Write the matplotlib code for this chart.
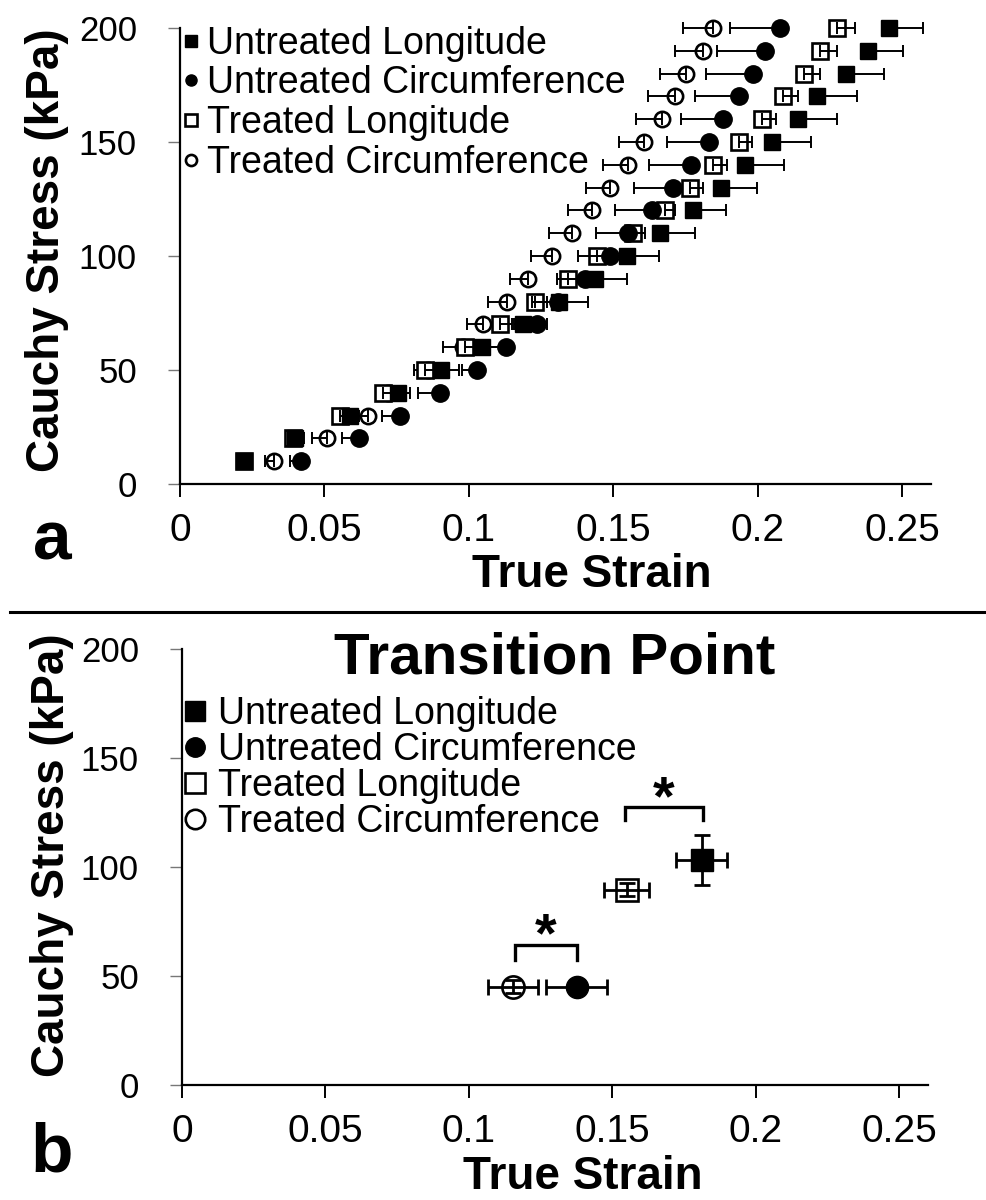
import matplotlib
matplotlib.use("Agg")
import matplotlib.pyplot as plt
from matplotlib.lines import Line2D
import numpy as np

plt.rcParams["font.family"] = ["Liberation Sans", "DejaVu Sans"]

# ── data: panel a, stress-strain curves (strain) ─────────────────────────────
stress_a = [10, 20, 30, 40, 50, 60, 70, 80, 90, 100,
            110, 120, 130, 140, 150, 160, 170, 180, 190, 200]

strain_ul = [0.0222, 0.0398, 0.0589, 0.0755, 0.0905, 0.1045, 0.1188, 0.1312, 0.1437, 0.1547,
             0.1662, 0.1777, 0.1873, 0.1956, 0.2051, 0.2139, 0.2204, 0.2306, 0.2383, 0.2453]
err_ul = [0.002, 0.003, 0.003, 0.004, 0.006, 0.007, 0.0081, 0.010, 0.0109, 0.0112,
          0.0121, 0.0115, 0.0124, 0.0135, 0.0133, 0.0135, 0.0139, 0.0132, 0.0121, 0.0121]

strain_uc = [0.0419, 0.0620, 0.0762, 0.0900, 0.1027, 0.1129, 0.1235, 0.1310, 0.1402, 0.1489,
             0.1550, 0.1633, 0.1706, 0.1769, 0.1832, 0.1881, 0.1937, 0.1985, 0.2026, 0.2078]
err_uc = [0.0037, 0.0059, 0.0063, 0.0075, 0.005, 0.008, 0.008, 0.009, 0.0098, 0.011,
          0.011, 0.0127, 0.0134, 0.0144, 0.0147, 0.0148, 0.0154, 0.0165, 0.0167, 0.0173]

strain_tl = [0.0220, 0.0390, 0.0554, 0.0703, 0.0848, 0.0987, 0.1108, 0.1229, 0.1344, 0.1443,
             0.1570, 0.1679, 0.1764, 0.1847, 0.1936, 0.2014, 0.2086, 0.2162, 0.2216, 0.2274]
err_tl = [0.002, 0.002, 0.003, 0.003, 0.003, 0.004, 0.004, 0.004, 0.004, 0.004,
          0.004, 0.0035, 0.0046, 0.0046, 0.0044, 0.005, 0.0052, 0.0054, 0.0058, 0.0063]

strain_tc = [0.0325, 0.0509, 0.0651, 0.0720, 0.0860, 0.0979, 0.1050, 0.1131, 0.1206, 0.1287,
             0.1356, 0.1425, 0.1487, 0.1552, 0.1608, 0.1670, 0.1714, 0.1752, 0.1810, 0.1844]
err_tc = [0.0029, 0.0052, 0.004, 0.004, 0.005, 0.0069, 0.0058, 0.0064, 0.0063, 0.0072,
          0.008, 0.0081, 0.0082, 0.0087, 0.0088, 0.0091, 0.0095, 0.009, 0.0096, 0.0102]

# ── data: panel b, transition point (mean ± sd) ─────────────────────────────
tp_strain = [0.1812, 0.1376, 0.1550, 0.1155]   # UL, UC, TL, TC
tp_strain_err = [0.0090, 0.0107, 0.0078, 0.0088]
tp_stress = [103.2, 45.0, 89.5, 45.0]
tp_stress_err = [11.3, 3.0, 3.0, 3.0]

# significance brackets: (x_left, x_right, y_top, y_arm)
sig_brackets = [(0.1545, 0.1816, 127.4, 121.6),
                (0.1161, 0.1376, 64.2, 57.3)]

labels = ["Untreated Longitude", "Untreated Circumference",
          "Treated Longitude", "Treated Circumference"]
xtick_vals = [0, 0.05, 0.1, 0.15, 0.2, 0.25]
xtick_labels = ["0", "0.05", "0.1", "0.15", "0.2", "0.25"]
ytick_vals = [0, 50, 100, 150, 200]

# ── styles ───────────────────────────────────────────────────────────────────
styles = {
    "Untreated Longitude":     dict(marker="s", mfc="black", mec="black", mew=1.0),
    "Untreated Circumference": dict(marker="o", mfc="black", mec="black", mew=1.0),
    "Treated Longitude":       dict(marker="s", mfc="white", mec="black", mew=1.9),
    "Treated Circumference":   dict(marker="o", mfc="white", mec="black", mew=1.9),
}


def style_axes(ax):
    ax.set_xlim(0, 0.26)
    ax.set_ylim(0, 200)
    ax.set_xticks(xtick_vals)
    ax.set_xticklabels(xtick_labels)
    ax.set_yticks(ytick_vals)
    for side in ("top", "right"):
        ax.spines[side].set_visible(False)
    for side in ("left", "bottom"):
        ax.spines[side].set_linewidth(1.6)
    ax.tick_params(axis="x", direction="out", length=9, width=1.4, labelsize=28, pad=12)
    ax.tick_params(axis="y", direction="out", length=9, width=1.0, color="#777777",
                   labelsize=25, pad=22)


def add_legend(ax, ms, x, y, spacing, textpad, hlen):
    handles = [Line2D([], [], ls="none", ms=ms, **styles[lab]) for lab in labels]
    leg = ax.legend(handles, labels, loc="upper left", bbox_to_anchor=(x, y),
                    frameon=False, fontsize=27, borderaxespad=0, borderpad=0,
                    labelspacing=spacing, handletextpad=textpad, handlelength=hlen)
    for h in leg.legend_handles:
        h.set_clip_on(False)
    return leg


fig = plt.figure(figsize=(9.87, 12), dpi=100)
ax_a = fig.add_axes([180 / 987, 1 - 484 / 1200, 751 / 987, 456 / 1200])
ax_b = fig.add_axes([182 / 987, 1 - 1085 / 1200, 0.26 * 2868 / 987, 436 / 1200])

# ── panel a ──────────────────────────────────────────────────────────────────
# drawing order: treated series underneath, untreated on top
series_a = [
    ("Treated Circumference", strain_tc, err_tc, "minus", 11.0),
    ("Treated Longitude", strain_tl, err_tl, "plus", 12.0),
    ("Untreated Longitude", strain_ul, err_ul, "plus", 12.0),
    ("Untreated Circumference", strain_uc, err_uc, "minus", 12.5),
]
for z, (lab, xs, errs, side, ms) in enumerate(series_a):
    errs = np.array(errs)
    zero = np.zeros_like(errs)
    xerr = [errs, zero] if side == "minus" else [zero, errs]
    ax_a.plot(xs, stress_a, ls="none", ms=ms, zorder=3 + z, clip_on=False, **styles[lab])
    ax_a.errorbar(xs, stress_a, xerr=xerr, fmt="none", ecolor="black", elinewidth=1.4,
                  capsize=4.5, capthick=1.4, zorder=3.5 + z, clip_on=False)

style_axes(ax_a)
add_legend(ax_a, ms=8, x=0.004, y=1.005, spacing=0.1, textpad=0.25, hlen=0.4)
ax_a.set_xlabel("True Strain", fontsize=33, fontweight="bold", va="center")
ax_a.xaxis.set_label_coords(0.549, -0.2)
ax_a.set_ylabel("Cauchy Stress (kPa)", fontsize=33, fontweight="bold", va="center")
ax_a.yaxis.set_label_coords(-0.177, 0.513)

# ── panel b ──────────────────────────────────────────────────────────────────
for z, lab in enumerate(labels):
    i = labels.index(lab)
    ax_b.plot(tp_strain[i], tp_stress[i], ls="none", ms=16, zorder=3 + z,
              clip_on=False, **styles[lab])
    ax_b.errorbar(tp_strain[i], tp_stress[i], xerr=tp_strain_err[i], yerr=tp_stress_err[i],
                  fmt="none", ecolor="black", elinewidth=2.0, capsize=6, capthick=2.0,
                  zorder=3.5 + z)

for x0, x1, ytop, yarm in sig_brackets:
    ax_b.plot([x0, x0, x1, x1], [yarm, ytop, ytop, yarm], color="black", lw=2.4,
              solid_joinstyle="miter")
    ax_b.text((x0 + x1) / 2, ytop - 8.5, "*", ha="center", va="bottom",
              fontsize=40, fontweight="bold")

style_axes(ax_b)
add_legend(ax_b, ms=14, x=0.003, y=0.893, spacing=0.0, textpad=0.3, hlen=0.6)
ax_b.text(0.50, 0.943, "Transition Point", transform=ax_b.transAxes, ha="center",
          va="baseline", fontsize=42, fontweight="bold")
ax_b.set_xlabel("True Strain", fontsize=33, fontweight="bold", va="center")
ax_b.xaxis.set_label_coords(0.538, -0.211)
ax_b.set_ylabel("Cauchy Stress (kPa)", fontsize=33, fontweight="bold", va="center")
ax_b.yaxis.set_label_coords(-0.175, 0.527)

# ── panel letters and separator ─────────────────────────────────────────────
fig.text(52 / 987, 1 - 560 / 1200, "a", ha="center", va="baseline",
         fontsize=50, fontweight="bold")
fig.text(52 / 987, 1 - 1171 / 1200, "b", ha="center", va="baseline",
         fontsize=50, fontweight="bold")
fig.add_artist(Line2D([10 / 987, 1.0], [1 - 612 / 1200] * 2, transform=fig.transFigure,
                      color="black", lw=2.2))

fig.savefig("out.png", dpi=100)
